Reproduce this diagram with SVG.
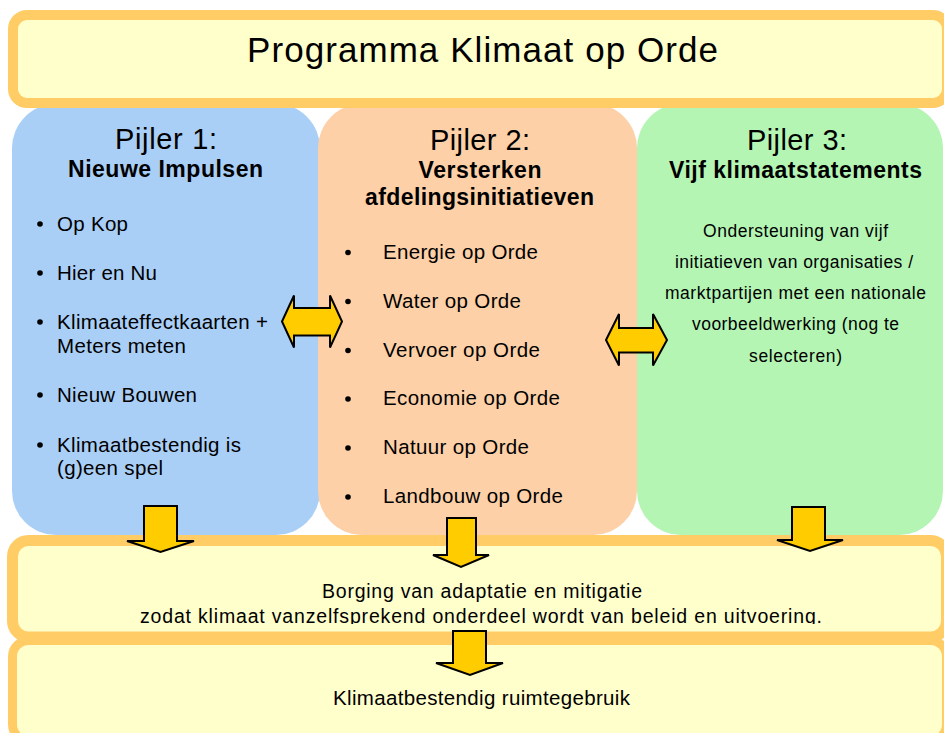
<svg xmlns="http://www.w3.org/2000/svg" width="944" height="733" viewBox="0 0 944 733">
  <style>
    text { font-family: "Liberation Sans", Arial, sans-serif; fill: #000; }
    .title { font-size: 35px; text-anchor: middle; }
    .pijler { font-size: 29px; text-anchor: middle; }
    .sub { font-size: 23px; font-weight: bold; text-anchor: middle; }
    .item { font-size: 20.5px; }
    .body { font-size: 17.5px; text-anchor: middle; }
    .mid { font-size: 19.5px; text-anchor: middle; }
    .low { font-size: 20.5px; text-anchor: middle; }
    .frame { fill: #ffffcc; stroke: #ffcc66; }
    .arrow { fill: #ffcc00; stroke: #000; stroke-width: 2; stroke-linejoin: miter; }
    .dot { fill: #000; }
  </style>
  <defs>
    <clipPath id="clipBorging">
      <rect x="0" y="540" width="944" height="84"/>
    </clipPath>
  </defs>

  <!-- Pillars -->
  <g id="pijler1">
    <rect x="12" y="104" width="308" height="431" rx="44" ry="44" fill="#aacff7"/>
    <text class="pijler" x="166" y="149" textLength="102">Pijler 1:</text>
    <text class="sub" x="165.5" y="177" textLength="195">Nieuwe Impulsen</text>
    <circle class="dot" cx="40" cy="224" r="2.8"/>
    <text class="item" x="57" y="231" textLength="71">Op Kop</text>
    <circle class="dot" cx="40" cy="273" r="2.8"/>
    <text class="item" x="57" y="280" textLength="100">Hier en Nu</text>
    <circle class="dot" cx="40" cy="322" r="2.8"/>
    <text class="item" x="57" y="329" textLength="211">Klimaateffectkaarten +</text>
    <text class="item" x="57" y="353" textLength="129">Meters meten</text>
    <circle class="dot" cx="40" cy="395" r="2.8"/>
    <text class="item" x="57" y="402" textLength="140">Nieuw Bouwen</text>
    <circle class="dot" cx="40" cy="445" r="2.8"/>
    <text class="item" x="57" y="452" textLength="184">Klimaatbestendig is</text>
    <text class="item" x="57" y="475" textLength="106">(g)een spel</text>
  </g>

  <g id="pijler2">
    <rect x="318" y="104" width="319" height="431" rx="44" ry="44" fill="#fdd0a7"/>
    <text class="pijler" x="480" y="150" textLength="100">Pijler 2:</text>
    <text class="sub" x="480" y="178" textLength="123">Versterken</text>
    <text class="sub" x="479.5" y="205" textLength="229">afdelingsinitiatieven</text>
    <circle class="dot" cx="348" cy="252.5" r="2.8"/>
    <text class="item" x="383" y="258.5" textLength="155">Energie op Orde</text>
    <circle class="dot" cx="348" cy="301.5" r="2.8"/>
    <text class="item" x="383" y="307.5" textLength="138">Water op Orde</text>
    <circle class="dot" cx="348" cy="350.5" r="2.8"/>
    <text class="item" x="383" y="356.5" textLength="157">Vervoer op Orde</text>
    <circle class="dot" cx="348" cy="399" r="2.8"/>
    <text class="item" x="383" y="405" textLength="177">Economie op Orde</text>
    <circle class="dot" cx="348" cy="448" r="2.8"/>
    <text class="item" x="383" y="454" textLength="146">Natuur op Orde</text>
    <circle class="dot" cx="348" cy="497" r="2.8"/>
    <text class="item" x="383" y="503" textLength="180">Landbouw op Orde</text>
  </g>

  <g id="pijler3">
    <rect x="637" y="104" width="306" height="431" rx="44" ry="44" fill="#b4f5b4"/>
    <text class="pijler" x="797" y="150" textLength="100">Pijler 3:</text>
    <text class="sub" x="795.5" y="178" textLength="253">Vijf klimaatstatements</text>
    <text class="body" x="795.5" y="237" textLength="185">Ondersteuning van vijf</text>
    <text class="body" x="794" y="268" textLength="238">initiatieven van organisaties /</text>
    <text class="body" x="795.5" y="299" textLength="261">marktpartijen met een nationale</text>
    <text class="body" x="795.5" y="330" textLength="207">voorbeeldwerking (nog te</text>
    <text class="body" x="795.5" y="362" textLength="93">selecteren)</text>
  </g>

  <!-- Title -->
  <g id="titel">
    <rect class="frame" x="13" y="15" width="934" height="88" rx="14" ry="14" stroke-width="10"/>
    <text class="title" x="482.5" y="62" textLength="471">Programma Klimaat op Orde</text>
  </g>

  <!-- Borging -->
  <g id="borging">
    <rect class="frame" x="12.5" y="540.5" width="934" height="96.5" rx="16" ry="16" stroke-width="11"/>
    <g clip-path="url(#clipBorging)">
      <text class="mid" x="482" y="598" textLength="320">Borging van adaptatie en mitigatie</text>
      <text class="mid" x="481" y="623" textLength="682">zodat klimaat vanzelfsprekend onderdeel wordt van beleid en uitvoering.</text>
    </g>
  </g>

  <!-- Bottom -->
  <g id="ruimtegebruik">
    <rect class="frame" x="12.5" y="640.5" width="934" height="100" rx="16" ry="16" stroke-width="9" fill="#ffffd6"/>
    <text class="low" x="481.5" y="705" textLength="297">Klimaatbestendig ruimtegebruik</text>
  </g>

  <!-- Connectors -->
  <g id="connectors">
    <polygon class="arrow" points="282,321.5 294,295.5 294,308 330,308 330,295.5 342,321.5 330,347.5 330,335.5 294,335.5 294,347.5"/>
    <polygon class="arrow" points="606,340 619,314 619,328 653,328 653,314 667,340 653,365.5 653,352.5 619,352.5 619,365.5"/>
    <polygon class="arrow" points="144,506 177,506 177,541 194,541 160.5,552 127,541 144,541"/>
    <polygon class="arrow" points="447,518 476,518 476,555 489,555 461,567 433,555 447,555"/>
    <polygon class="arrow" points="792,507 825,507 825,540 843,540 810,551 777,540 792,540"/>
    <polygon class="arrow" points="453,631 486,631 486,663 503,663 470,675 436,663 453,663"/>
  </g>
</svg>
